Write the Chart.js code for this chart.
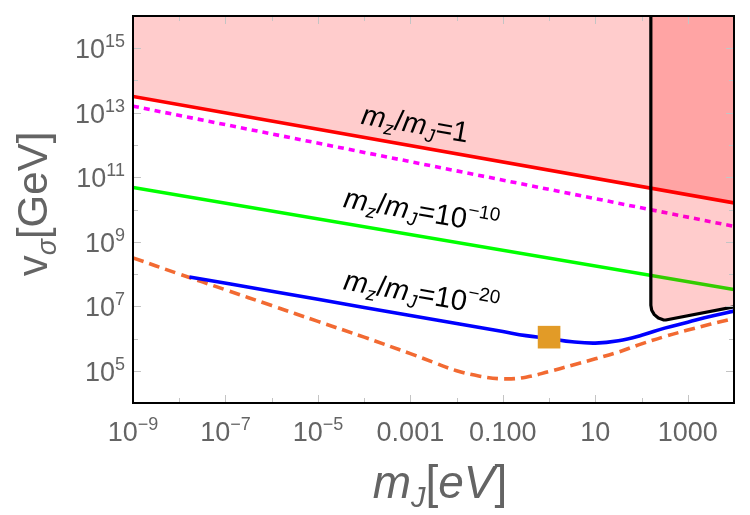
<!DOCTYPE html>
<html><head><meta charset="utf-8">
<script src="https://cdn.jsdelivr.net/npm/chart.js@4.4.1/dist/chart.umd.min.js"></script>
<style>html,body{margin:0;padding:0;background:#fff}#wrap{width:750px;height:515px}</style>
</head><body><div id="wrap"><canvas id="c" width="750" height="515"></canvas></div>
<script>
// ---- axis ranges ----
const X_MIN = 1e-9, X_MAX = 1e4, Y_MIN = 1e4, Y_MAX = 1e16;

// ---- tick labels ----
const xTickValues = [1e-9, 1e-7, 1e-5, 1e-3, 1e-1, 1e1, 1e3];
const xTickBase   = ['10', '10', '10', '0.001', '0.100', '10', '1000'];
const xTickExp    = ['\u22129', '\u22127', '\u22125', '', '', '', ''];
const yTickValues = [1e5, 1e7, 1e9, 1e11, 1e13, 1e15];
const yTickBase   = ['10', '10', '10', '10', '10', '10'];
const yTickExp    = ['5', '7', '9', '11', '13', '15'];

// ---- series (m_J in eV, v_sigma in GeV) ----
const redX = [1e-9, 1e4];
const redY = [3.2e13, 1.6e10];
const magX = [1e-9, 1e4];
const magY = [1.6e13, 3.0e9];
const greenX = [1e-9, 1e4];
const greenY = [4.8e10, 3.3e7];
const blueX = [1.66e-8, 1e-6, 1e-4, 1e-2, 0.1, 0.316, 1, 3.16, 10, 31.6, 100, 316, 1000, 3162, 1e4];
const blueY = [8.1e7, 2.92e7, 9.2e6, 2.9e6, 1.64e6, 1.23e6, 1.0e6, 7.9e5, 7.2e5, 8.5e5, 1.26e6, 2.1e6, 3.2e6, 4.9e6, 7.1e6];
const orangeX = [1e-9, 1e-8, 1e-7, 1e-6, 1e-5, 1e-4, 1e-3, 3.16e-3, 1e-2, 3.16e-2, 0.1, 0.316, 1, 3.16, 10, 31.6, 100, 316, 1000, 3162, 1e4];
const orangeY = [3.16e8, 1.0e8, 3.24e7, 1.05e7, 3.39e6, 1.1e6, 3.39e5, 1.82e5, 1.0e5, 6.8e4, 5.6e4, 6.3e4, 9.5e4, 1.48e5, 2.34e5, 3.8e5, 6.8e5, 1.15e6, 1.82e6, 2.8e6, 4.2e6];
const blackX = [159, 159, 166, 189, 231, 294, 334, 1e4];
const blackY = [1e16, 1.07e7, 7.5e6, 5.5e6, 4.3e6, 3.8e6, 3.75e6, 9.6e6];
const markX = [1];
const markY = [1.1e6];

// ---- annotations (left-baseline anchor in data coords) ----
const annotX = [8.2e-5, 3.4e-5, 3.4e-5];
const annotY = [4.6e12, 1.2e10, 3.35e7];
const annotExp = ['', '\u221210', '\u221220'];
const annotTail = ['1', '10', '10'];

const pts = (xs, ys) => xs.map((x, i) => ({x: x, y: ys[i]}));
const FONT = '"Liberation Sans", Arial, sans-serif';

function drawRich(ctx, parts, x, y, align) {
  let w = 0;
  parts.forEach(p => {
    ctx.font = (p[2] ? 'italic ' : '') + p[1] + 'px ' + FONT;
    p.w = ctx.measureText(p[0]).width; w += p.w;
  });
  let cx = align === 'center' ? x - w / 2 : (align === 'right' ? x - w : x);
  ctx.textAlign = 'left'; ctx.textBaseline = 'alphabetic';
  parts.forEach(p => {
    ctx.font = (p[2] ? 'italic ' : '') + p[1] + 'px ' + FONT;
    ctx.fillText(p[0], cx, y + p[3]); cx += p.w;
  });
}

const decor = {
  id: 'decor',
  afterDraw(chart) {
    const ctx = chart.ctx, a = chart.chartArea;
    const xs = chart.scales.x, ys = chart.scales.y;
    ctx.save();
    // inward ticks
    ctx.strokeStyle = '#c4c4c4'; ctx.lineWidth = 1;
    for (let d = -9; d <= 4; d++) {
      const px = Math.round(xs.getPixelForValue(Math.pow(10, d))) + 0.5;
      const len = (d % 2 !== 0) ? 8 : 5;
      ctx.beginPath(); ctx.moveTo(px, a.bottom); ctx.lineTo(px, a.bottom - len);
      ctx.moveTo(px, a.top); ctx.lineTo(px, a.top + len); ctx.stroke();
    }
    for (let d = 4; d <= 16; d++) {
      const py = Math.round(ys.getPixelForValue(Math.pow(10, d))) + 0.5;
      const len = (d % 2 !== 0) ? 8 : 5;
      ctx.beginPath(); ctx.moveTo(a.left, py); ctx.lineTo(a.left + len, py);
      ctx.moveTo(a.right, py); ctx.lineTo(a.right - len, py); ctx.stroke();
    }
    // frame
    ctx.strokeStyle = '#000'; ctx.lineWidth = 2;
    ctx.strokeRect(a.left, a.top, a.right - a.left, a.bottom - a.top);
    // tick labels
    ctx.fillStyle = '#646464';
    xTickValues.forEach((v, i) => {
      const px = xs.getPixelForValue(v);
      const parts = [[xTickBase[i], 27, false, 0]];
      if (xTickExp[i]) parts.push([xTickExp[i], 18, false, -11]);
      drawRich(ctx, parts, px, a.bottom + 38, 'center');
    });
    yTickValues.forEach((v, i) => {
      const py = ys.getPixelForValue(v);
      drawRich(ctx, [[yTickBase[i], 27, false, 0], [yTickExp[i], 18, false, -11]], a.left - 8, py + 10, 'right');
    });
    // axis titles
    drawRich(ctx, [['m', 46, true, 0], ['J', 29, true, 9], ['[', 46, false, 0], ['eV', 46, true, 0], [']', 46, false, 0]], 440, 498, 'center');
    ctx.save();
    ctx.translate(47, 204); ctx.rotate(-Math.PI / 2);
    drawRich(ctx, [['v', 42, false, 0], ['\u03c3', 27, true, 9], ['[GeV]', 42, false, 0]], 0, 0, 'center');
    ctx.restore();
    // annotations
    ctx.fillStyle = '#000';
    annotX.forEach((v, i) => {
      const px = xs.getPixelForValue(v), py = ys.getPixelForValue(annotY[i]);
      ctx.save(); ctx.translate(px, py); ctx.rotate(10 * Math.PI / 180);
      const parts = [['m', 29, true, 0], ['z', 19, true, 6], ['/', 29, false, 0], ['m', 29, true, 0], ['J', 19, true, 6], ['=' + annotTail[i], 29, false, 0]];
      if (annotExp[i]) parts.push([annotExp[i], 19, false, -13]);
      drawRich(ctx, parts, 0, 0, 'left');
      ctx.restore();
    });
    ctx.restore();
  }
};

const line = (data, color, extra) => Object.assign({
  data: data, showLine: true, borderColor: color, borderWidth: 3.6, pointRadius: 0,
  fill: false, borderCapStyle: 'butt'
}, extra || {});

new Chart(document.getElementById('c'), {
  type: 'scatter',
  data: {
    datasets: [
      {data: pts(markX, markY), showLine: false, pointStyle: 'rect', pointRadius: 16,
       pointBackgroundColor: '#e29b27', pointBorderWidth: 0, backgroundColor: '#e29b27', borderWidth: 0},
      line(pts(blackX, blackY), '#000000', {borderWidth: 3.2, fill: 'end', backgroundColor: 'rgba(255,0,0,0.2)', borderJoinStyle: 'round'}),
      line(pts(redX, redY), '#ff0000', {fill: 'end', backgroundColor: 'rgba(255,0,0,0.2)'}),
      line(pts(magX, magY), '#ff00ff', {borderDash: [6, 5]}),
      line(pts(greenX, greenY), '#00ff00'),
      line(pts(blueX, blueY), '#0000ff', {tension: 0.4}),
      line(pts(orangeX, orangeY), '#f26a32', {borderDash: [11, 6], tension: 0.4})
    ]
  },
  options: {
    responsive: false, animation: false, devicePixelRatio: 1, events: [],
    layout: {padding: {left: 133, right: 11, top: 8, bottom: 112}},
    plugins: {legend: {display: false}, tooltip: {enabled: false}},
    scales: {
      x: {type: 'logarithmic', min: X_MIN, max: X_MAX, display: false},
      y: {type: 'logarithmic', min: Y_MIN, max: Y_MAX, display: false}
    }
  },
  plugins: [decor]
});
</script>
</body></html>
